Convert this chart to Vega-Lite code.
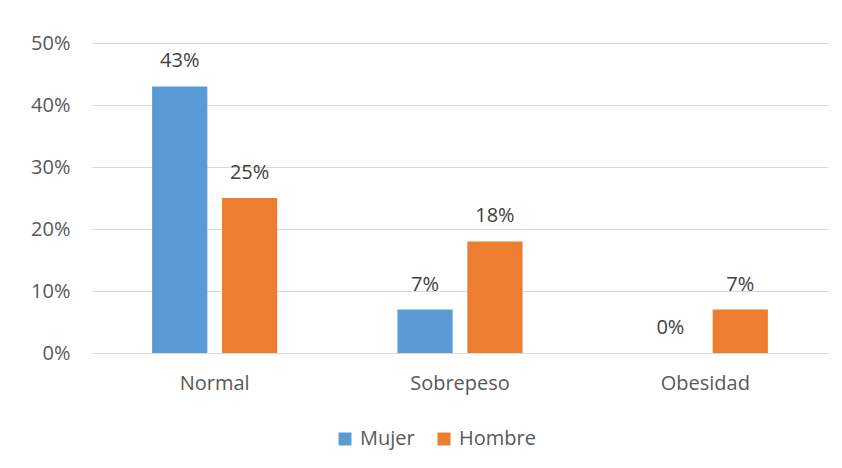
{
  "$schema": "https://vega.github.io/schema/vega-lite/v6.json",
  "autosize": "none",
  "width": 736,
  "height": 310,
  "padding": {"left": 92, "top": 43, "right": 14, "bottom": 115},
  "background": "white",
  "config": {
    "view": {"stroke": null},
    "font": "Open Sans"
  },
  "data": {
    "values": [
      {"categoria": "Normal", "sexo": "Mujer", "valor": 0.43},
      {"categoria": "Normal", "sexo": "Hombre", "valor": 0.25},
      {"categoria": "Sobrepeso", "sexo": "Mujer", "valor": 0.07},
      {"categoria": "Sobrepeso", "sexo": "Hombre", "valor": 0.18},
      {"categoria": "Obesidad", "sexo": "Mujer", "valor": 0.0},
      {"categoria": "Obesidad", "sexo": "Hombre", "valor": 0.07}
    ]
  },
  "encoding": {
    "x": {
      "field": "categoria", "type": "nominal",
      "sort": ["Normal", "Sobrepeso", "Obesidad"],
      "scale": {"paddingInner": 0.49, "paddingOuter": 0.245},
      "axis": {"title": null, "labelAngle": 0, "labelFontSize": 20, "labelColor": "#595959", "ticks": false, "domainColor": "#D9D9D9", "labelPadding": 20, "labelFont": "Open Sans"}
    },
    "xOffset": {"field": "sexo", "type": "nominal", "sort": ["Mujer", "Hombre"], "scale": {"paddingInner": 0.21, "paddingOuter": 0}},
    "y": {
      "field": "valor", "type": "quantitative",
      "scale": {"domain": [0, 0.5]},
      "axis": {"title": null, "format": ".0%", "values": [0, 0.1, 0.2, 0.3, 0.4, 0.5], "labelFontSize": 20, "labelColor": "#595959", "ticks": false, "domain": false, "gridColor": "#D9D9D9", "labelPadding": 22, "labelFont": "Open Sans"}
    }
  },
  "layer": [
    {
      "mark": {"type": "bar"},
      "encoding": {
        "color": {
          "field": "sexo", "type": "nominal",
          "sort": ["Mujer", "Hombre"],
          "scale": {"domain": ["Mujer", "Hombre"], "range": ["#5B9BD5", "#ED7D31"]},
          "legend": {"title": null, "orient": "none", "legendX": 243, "legendY": 386, "direction": "horizontal", "symbolType": "square", "symbolSize": 169, "symbolStrokeWidth": 0, "labelFontSize": 20, "labelColor": "#595959", "columnPadding": 19, "labelOffset": 5, "labelFont": "Open Sans"}
        }
      }
    },
    {
      "mark": {"type": "text", "baseline": "alphabetic", "dy": -19, "fontSize": 20, "color": "#404040", "font": "Open Sans"},
      "encoding": {
        "text": {"field": "valor", "type": "quantitative", "format": ".0%"}
      }
    }
  ]
}
